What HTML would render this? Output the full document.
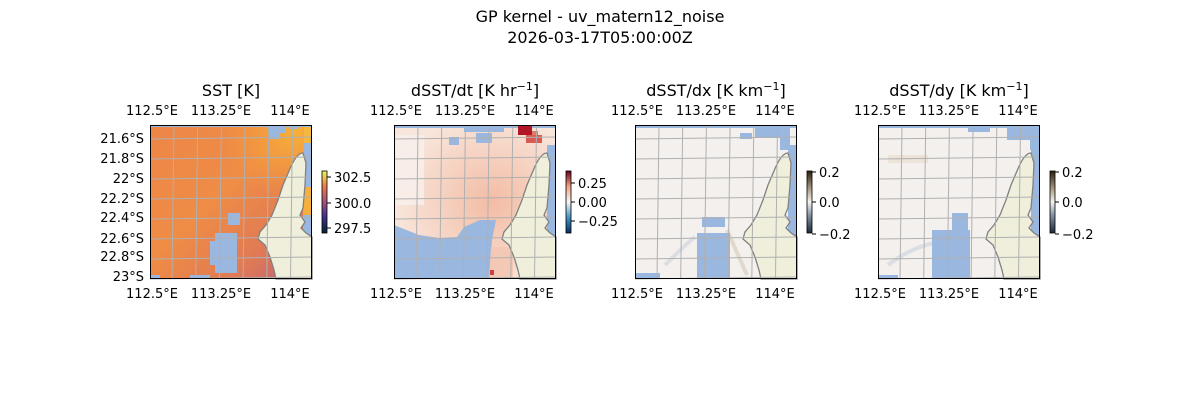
<!DOCTYPE html>
<html><head><meta charset="utf-8"><style>
body{margin:0;background:#fff;}
svg text{font-family:"DejaVu Sans","Liberation Sans",sans-serif;fill:#000;}
</style></head><body>
<svg id="s" width="1200" height="400" viewBox="0 0 1200 400" xmlns="http://www.w3.org/2000/svg">
<defs>
<linearGradient id="cb1" x1="0" y1="1" x2="0" y2="0"><stop offset="0" stop-color="#042333"/><stop offset="0.25" stop-color="#3c2d8a"/><stop offset="0.5" stop-color="#a3527a"/><stop offset="0.75" stop-color="#ea7a4a"/><stop offset="1" stop-color="#e8fa5b"/></linearGradient>
<linearGradient id="cb2" x1="0" y1="1" x2="0" y2="0"><stop offset="0" stop-color="#053061"/><stop offset="0.25" stop-color="#4393c3"/><stop offset="0.5" stop-color="#f7f7f7"/><stop offset="0.75" stop-color="#f4a582"/><stop offset="1" stop-color="#67001f"/></linearGradient>
<linearGradient id="cb3" x1="0" y1="1" x2="0" y2="0"><stop offset="0" stop-color="#1c2a3a"/><stop offset="0.3" stop-color="#8a98aa"/><stop offset="0.5" stop-color="#f5f3f0"/><stop offset="0.7" stop-color="#b0a08a"/><stop offset="1" stop-color="#2a2010"/></linearGradient>
<linearGradient id="sstg" x1="0" y1="0" x2="1" y2="1"><stop offset="0" stop-color="#ec8648"/><stop offset="0.45" stop-color="#ef8c45"/><stop offset="0.75" stop-color="#e07a55"/><stop offset="1" stop-color="#b8607a"/></linearGradient>
<radialGradient id="ssty" cx="0.9" cy="0.05" r="0.45"><stop offset="0" stop-color="#f6b03a" stop-opacity="1"/><stop offset="1" stop-color="#f6a03a" stop-opacity="0"/></radialGradient>
<radialGradient id="dtg" cx="0.6" cy="0.5" r="0.6"><stop offset="0" stop-color="#f3bca4"/><stop offset="1" stop-color="#f8e6dc"/></radialGradient>
</defs>
<text x="600" y="22" font-size="16" text-anchor="middle">GP kernel - uv_matern12_noise</text>
<text x="600" y="43" font-size="16" text-anchor="middle">2026-03-17T05:00:00Z</text>
</svg>
<script>
const s=document.getElementById('s');
let h='';
const land="M153,28 C148,28 143,36 139,46 L133,60 L128,75 L122,90 L116,100 L110,107 L108,114 L115,120 L120,132 L124,145 L126,154 L162,154 L162,112 L156,108 L151,103 L155,97 L150,90 L153,83 L155,60 L156,38 Z";
const panels=[
 {x:150,title:'SST [K]',sup:'',cb:'cb1',ticks:[[177,'302.5'],[203,'300.0'],[228,'297.5']]},
 {x:394,title:'dSST/dt [K hr',sup:'−1',cb:'cb2',ticks:[[183,'0.25'],[202,'0.00'],[221,'−0.25']]},
 {x:635,title:'dSST/dx [K km',sup:'−1',cb:'cb3',ticks:[[172,'0.2'],[202,'0.0'],[234,'−0.2']]},
 {x:878,title:'dSST/dy [K km',sup:'−1',cb:'cb3',ticks:[[172,'0.2'],[202,'0.0'],[234,'−0.2']]}];
const blue='#9ab7e0';
panels.forEach((p,i)=>{
 const X=p.x,Y=125,W=162,H=154;
 h+=`<text x="${X+81}" y="96" font-size="16" text-anchor="middle">${p.title}${p.sup?`<tspan font-size="11" dy="-6">${p.sup}</tspan><tspan dy="6">]</tspan>`:''}</text>`;
 h+=`<g transform="translate(${X},${Y})">`;
 if(i==0){h+=`<rect width="${W}" height="${H}" fill="url(#sstg)"/><rect width="${W}" height="${H}" fill="url(#ssty)"/>
 <path fill="${blue}" d="M0,0 H162 V2 H0Z M118,0 h18 v8 h-6 v6 h-10 v-6 h-2Z M140,0 h8 v4 h-8Z M65,108 h22 v40 h-22Z M60,116 h6 v24 h-6Z M78,88 h12 v12 h-12Z M0,150 h10v4h-10Z M40,150 h20v4h-20Z M153,0 H162 V154 H153Z"/>
 <rect x="154" y="62" width="8" height="28" fill="#f5b040"/><rect x="154" y="2" width="8" height="16" fill="#f4b840"/>`;}
 else if(i==1){h+=`<rect width="${W}" height="${H}" fill="url(#dtg)"/><rect x="0" y="10" width="30" height="70" fill="#f8f0ec" opacity="0.8"/>
 <path fill="${blue}" d="M0,0 H162 V3 H0Z M55,12 h10 v8 h-10Z M82,8 h16 v10 h-16Z M70,2 h40 v5 h-40Z M0,100 L25,110 L45,113 L63,112 L70,102 L86,95 L102,95 L98,115 L96,154 L0,154Z M153,20 H162 V154 H153Z"/>
 <path fill="#f3c8b4" d="M97,122 h22 v32 h-24Z"/><rect x="96" y="145" width="4" height="5" fill="#d04040"/>
 <rect x="124" y="0" width="14" height="10" fill="#b01828"/><rect x="132" y="10" width="16" height="8" fill="#d85a50"/><rect x="138" y="6" width="6" height="4" fill="#e07a60"/>`;}
 else if(i==2){h+=`<rect width="${W}" height="${H}" fill="#f3f0ed"/><path d="M92,105 L112,150" stroke="#c8b8a0" stroke-width="4" opacity="0.4"/><path d="M30,140 Q50,120 60,112" stroke="#ccd2dc" stroke-width="4" fill="none" opacity="0.6"/>
 <path fill="${blue}" d="M0,0 H162 V3 H0Z M120,0 h35 v25 h-10 v-12 h-25Z M105,8 h12 v6 h-12Z M62,108 h33 v46 h-33Z M67,92 h23 v10 h-23Z M0,148 h25v6h-25Z M153,20 H162 V154 H153Z"/>`;}
 else {h+=`<rect width="${W}" height="${H}" fill="#f3f0ed"/><path d="M10,140 Q50,110 90,118" stroke="#ccd2dc" stroke-width="4" fill="none" opacity="0.6"/><rect x="10" y="30" width="40" height="8" fill="#e8ddd0" opacity="0.7"/>
 <path fill="${blue}" d="M0,0 H162 V3 H0Z M90,0 h22 v7 h-22Z M129,0 h33 v25 h-10 v-10 h-23Z M74,88 h16 v17 h-16Z M54,105 h38 v49 h-38Z M0,150 h20v4h-20Z M153,20 H162 V154 H153Z"/>`;}
 h+=`<path d="${land}" fill="#efefdb" stroke="#808080" stroke-width="1.3"/>`;
 for(let k=0;k<6;k++){const gx=24+k*23.7;h+=`<line x1="${gx}" y1="0" x2="${gx-2}" y2="${H}" stroke="#b0b0b0" stroke-width="1"/>`;}
 for(let k=0;k<8;k++){const gy=13+k*20;h+=`<line x1="0" y1="${gy+1}" x2="${W}" y2="${gy-1}" stroke="#b0b0b0" stroke-width="1"/>`;}
 h+=`<rect x="0.5" y="0.5" width="${W-1}" height="${H-1}" fill="none" stroke="#000" stroke-width="1"/></g>`;
 [[152,'112.5°E'],[221,'113.25°E'],[290,'114°E']].forEach(([tx,t])=>{
   h+=`<text x="${X-150+tx}" y="115" font-size="13" text-anchor="middle">${t}</text>`;
   h+=`<text x="${X-150+tx}" y="298" font-size="13" text-anchor="middle">${t}</text>`;});
 if(i==0){[[143,'21.6°S'],[163,'21.8°S'],[183,'22°S'],[203,'22.2°S'],[222,'22.4°S'],[243,'22.6°S'],[261,'22.8°S'],[281,'23°S']].forEach(([y,t])=>{h+=`<text x="144" y="${y}" font-size="13" text-anchor="end">${t}</text>`;});}
 const cx=X+172;
 h+=`<rect x="${cx}" y="171" width="5" height="62" fill="url(#${p.cb})" stroke="#000" stroke-width="0.8"/>`;
 p.ticks.forEach(([y,t])=>{h+=`<line x1="${cx+5}" y1="${y}" x2="${cx+9}" y2="${y}" stroke="#000"/><text x="${cx+12}" y="${y+5}" font-size="13">${t}</text>`;});
});
s.insertAdjacentHTML('beforeend',h);
</script>
</body></html>
